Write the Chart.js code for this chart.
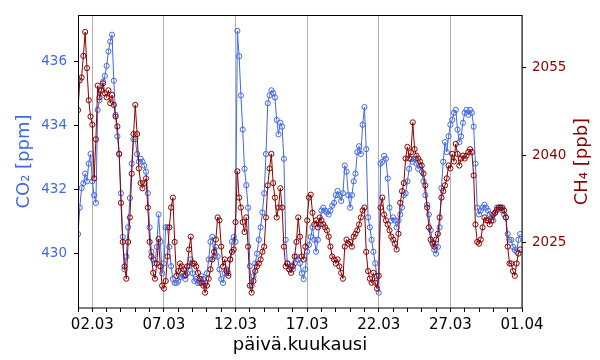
<!DOCTYPE html>
<html>
<head>
<meta charset="utf-8">
<script src="https://cdn.jsdelivr.net/npm/chart.js@4/dist/chart.umd.min.js"></script>
<style>
html,body{margin:0;padding:0;background:#fff;}
#wrap{width:600px;height:360px;position:relative;}
</style>
</head>
<body>
<div id="wrap"><canvas id="c" width="600" height="360"></canvas></div>
<script>
// ---- data (3-hourly samples from 01.03 00:00) ----
const co2 = [
 430.62,431.44,432.05,432.20,432.50,432.26,432.81,433.11,
 432.26,431.83,431.59,434.48,434.78,435.09,435.36,435.54,
 435.85,436.30,436.61,436.82,435.39,434.33,433.66,433.11,
 431.89,430.53,429.52,429.92,430.83,431.74,432.81,433.57,
 433.57,433.11,432.87,432.96,432.87,432.75,432.56,431.89,
 430.83,430.07,429.83,429.71,430.22,431.23,430.38,429.40,
 429.71,430.83,430.83,430.22,429.62,429.22,429.10,429.10,
 429.16,429.28,429.40,429.31,429.22,429.40,429.62,429.83,
 429.40,429.16,429.22,429.10,429.10,429.31,429.22,429.10,
 429.40,429.83,430.38,430.53,429.92,430.22,429.92,429.52,
 429.22,429.10,429.40,429.52,429.40,429.83,430.38,430.53,
 430.38,436.94,436.15,434.93,433.87,432.65,432.14,431.44,
 429.62,429.01,429.31,429.71,430.01,430.44,430.83,431.29,
 431.89,433.11,434.69,434.93,435.09,435.00,434.87,434.17,
 433.72,434.08,433.96,432.96,430.44,429.71,429.52,429.62,
 429.52,429.71,429.92,429.83,429.71,429.40,429.22,429.52,
 430.07,430.28,430.53,430.83,430.44,430.07,430.44,430.92,
 431.35,431.44,431.35,431.29,431.23,431.35,431.50,431.59,
 431.83,431.96,431.83,431.65,431.89,432.75,432.56,431.83,
 431.44,431.83,432.26,432.50,433.17,433.35,433.11,434.02,
 434.57,433.26,431.14,430.83,430.44,430.07,429.71,429.31,
 428.80,432.81,432.87,433.05,432.96,432.35,431.44,431.04,
 431.14,431.04,430.83,431.04,431.23,431.44,431.83,431.89,
 432.26,432.65,432.96,432.87,432.96,432.81,432.65,432.75,
 432.56,432.26,431.83,431.53,431.23,430.74,430.38,430.13,
 430.01,430.22,430.83,432.05,432.87,433.48,433.17,433.66,
 434.02,434.17,434.39,434.48,433.87,433.48,433.66,434.08,
 434.39,434.48,434.33,434.48,434.39,433.96,432.81,431.44,
 431.23,431.35,431.44,431.53,431.44,431.35,431.23,431.14,
 431.04,431.29,431.44,431.44,431.44,431.35,431.23,431.14,
 430.62,430.44,430.44,430.22,430.13,430.07,430.44,430.62
];
const ch4 = [
 2047.7,2052.8,2053.3,2057.0,2061.1,2054.9,2049.4,2046.6,
 2045.2,2036.0,2042.7,2051.9,2049.9,2051.1,2052.3,2050.6,
 2049.9,2051.1,2048.9,2050.3,2048.6,2046.6,2044.9,2040.2,
 2031.8,2025.1,2020.9,2018.8,2025.1,2029.3,2036.8,2043.6,
 2048.6,2043.6,2037.7,2035.2,2034.3,2035.2,2036.0,2031.0,
 2025.1,2022.6,2019.8,2018.8,2021.4,2025.6,2020.9,2017.6,
 2017.1,2018.4,2022.6,2027.6,2031.0,2032.7,2025.1,2019.3,
 2020.1,2021.4,2020.9,2020.4,2019.4,2020.9,2023.8,2026.0,
 2021.4,2021.4,2020.9,2019.8,2018.8,2018.1,2017.6,2016.4,
 2017.6,2018.8,2020.4,2022.1,2023.4,2025.5,2029.3,2028.8,
 2024.3,2020.9,2022.1,2020.1,2019.3,2022.1,2023.4,2023.8,
 2028.5,2037.2,2032.7,2031.0,2028.5,2026.8,2029.3,2024.3,
 2017.6,2016.4,2018.4,2020.1,2020.9,2021.4,2022.1,2023.4,
 2024.3,2029.3,2034.8,2037.7,2040.2,2035.2,2032.7,2029.3,
 2031.0,2034.3,2031.0,2024.3,2020.9,2021.4,2020.4,2019.8,
 2020.9,2022.6,2025.1,2029.3,2026.0,2022.6,2022.1,2024.3,
 2028.8,2032.7,2033.2,2030.1,2028.1,2028.8,2027.6,2029.3,
 2028.8,2028.1,2027.6,2027.1,2026.0,2024.3,2022.6,2022.1,
 2021.4,2022.1,2020.9,2019.8,2018.8,2024.3,2025.5,2024.8,
 2025.1,2024.3,2026.0,2026.5,2027.1,2028.1,2029.3,2030.5,
 2031.0,2023.4,2020.1,2018.8,2018.1,2019.8,2018.1,2017.1,
 2019.3,2031.0,2032.7,2029.8,2028.8,2028.1,2027.1,2026.0,
 2025.5,2024.8,2023.8,2026.5,2031.8,2033.8,2035.2,2039.4,
 2041.4,2039.4,2040.5,2045.6,2041.0,2039.9,2039.4,2038.9,
 2038.2,2036.8,2034.8,2031.0,2027.6,2025.5,2024.8,2024.3,
 2025.5,2026.5,2029.3,2032.7,2033.8,2034.8,2036.0,2038.2,
 2037.7,2040.2,2038.9,2041.9,2040.2,2038.2,2039.4,2039.9,
 2039.4,2039.9,2040.5,2041.0,2040.5,2036.5,2028.1,2025.1,
 2024.8,2025.5,2027.6,2029.3,2028.8,2028.8,2028.1,2028.8,
 2029.8,2030.1,2030.6,2031.0,2031.0,2031.0,2030.5,2029.3,
 2024.3,2021.4,2021.4,2020.1,2019.3,2021.4,2023.1,2023.8
];
const stepHours = 3;
const sampleDays = co2.map((_, i) => i * stepHours / 24);   // days since 01.03 00:00
const dayTicks = Array.from({length: 32}, (_, i) => i);      // daily minor ticks
const majorDays = [1, 6, 11, 16, 21, 26, 31];
const majorLabels = ['02.03', '07.03', '12.03', '17.03', '22.03', '27.03', '01.04'];
const co2Ticks = [430, 432, 434, 436];
const ch4Ticks = [2025, 2040, 2055];
const xTitle = 'päivä.kuukausi';
const co2Title = 'CO\u2082 [ppm]';
const ch4Title = 'CH\u2084 [ppb]';

const BLUE = '#4169E1', RED = '#8B0000';
const FONT = '"DejaVu Sans", sans-serif';
Chart.defaults.font.family = FONT;

const decor = {
  id: 'decor',
  afterDraw(chart) {
    const {ctx, chartArea: a} = chart;
    ctx.save();
    ctx.strokeStyle = '#000'; ctx.lineWidth = 1;
    ctx.strokeRect(Math.round(a.left) + 0.5, Math.round(a.top) + 0.5,
                   Math.round(a.right - a.left) - 0.5, Math.round(a.bottom - a.top) - 0.5);
    ctx.textAlign = 'center'; ctx.textBaseline = 'middle';
    ctx.font = '18px ' + FONT;
    ctx.fillStyle = '#000';
    ctx.fillText(xTitle, (a.left + a.right) / 2, 345);
    const cy = (a.top + a.bottom) / 2;
    ctx.save(); ctx.translate(24, cy); ctx.rotate(-Math.PI / 2);
    ctx.fillStyle = BLUE; ctx.fillText(co2Title, 0, 0); ctx.restore();
    ctx.save(); ctx.translate(582, cy); ctx.rotate(-Math.PI / 2);
    ctx.fillStyle = RED; ctx.fillText(ch4Title, 0, 0); ctx.restore();
    ctx.restore();
  }
};

new Chart(document.getElementById('c'), {
  type: 'line',
  data: {
    datasets: [
      {
        label: 'CO2', yAxisID: 'y', order: 2,
        data: co2.map((v, i) => ({x: sampleDays[i], y: v})),
        borderColor: BLUE, borderWidth: 1, backgroundColor: 'rgba(0,0,0,0)',
        pointRadius: 2.6, pointBorderWidth: 1, pointBorderColor: BLUE,
        pointBackgroundColor: 'rgba(0,0,0,0)', tension: 0, fill: false
      },
      {
        label: 'CH4', yAxisID: 'y2', order: 1,
        data: ch4.map((v, i) => ({x: sampleDays[i], y: v})),
        borderColor: RED, borderWidth: 1, backgroundColor: 'rgba(0,0,0,0)',
        pointRadius: 2.6, pointBorderWidth: 1, pointBorderColor: RED,
        pointBackgroundColor: 'rgba(0,0,0,0)', tension: 0, fill: false
      }
    ]
  },
  options: {
    responsive: false, animation: false, events: [],
    layout: {padding: {top: 8, left: 0, right: 0, bottom: 0}},
    plugins: {legend: {display: false}, tooltip: {enabled: false}},
    scales: {
      x: {
        type: 'linear', min: 0, max: 31,
        afterBuildTicks: s => { s.ticks = dayTicks.map(v => ({value: v, major: majorDays.includes(v)})); },
        afterFit: s => { s.height = 52; },
        border: {display: false},
        grid: {
          color: c => (c.tick && majorDays.includes(c.tick.value)) ? '#b0b0b0' : 'rgba(0,0,0,0)',
          tickColor: '#000', lineWidth: 1, tickWidth: 1, tickLength: 4
        },
        ticks: {
          autoSkip: false, maxRotation: 0, padding: 4, color: '#000',
          font: {size: 15},
          callback: v => { const k = majorDays.indexOf(v); return k >= 0 ? majorLabels[k] : ''; }
        }
      },
      y: {
        type: 'linear', position: 'left', min: 428.32, max: 437.43,
        afterBuildTicks: s => { s.ticks = co2Ticks.map(v => ({value: v})); },
        afterFit: s => { s.width = 78; },
        border: {display: false},
        grid: {drawOnChartArea: false, tickColor: '#000', tickLength: 4, tickWidth: 1},
        ticks: {color: BLUE, padding: 7, font: {size: 13.5}, callback: v => String(v)}
      },
      y2: {
        type: 'linear', position: 'right', min: 2013.77, max: 2064.0,
        afterBuildTicks: s => { s.ticks = ch4Ticks.map(v => ({value: v})); },
        afterFit: s => { s.width = 78; },
        border: {display: false},
        grid: {drawOnChartArea: false, tickColor: '#000', tickLength: 4, tickWidth: 1},
        ticks: {color: RED, padding: 6, font: {size: 13.5}, callback: v => String(v)}
      }
    }
  },
  plugins: [decor]
});
</script>
</body>
</html>
